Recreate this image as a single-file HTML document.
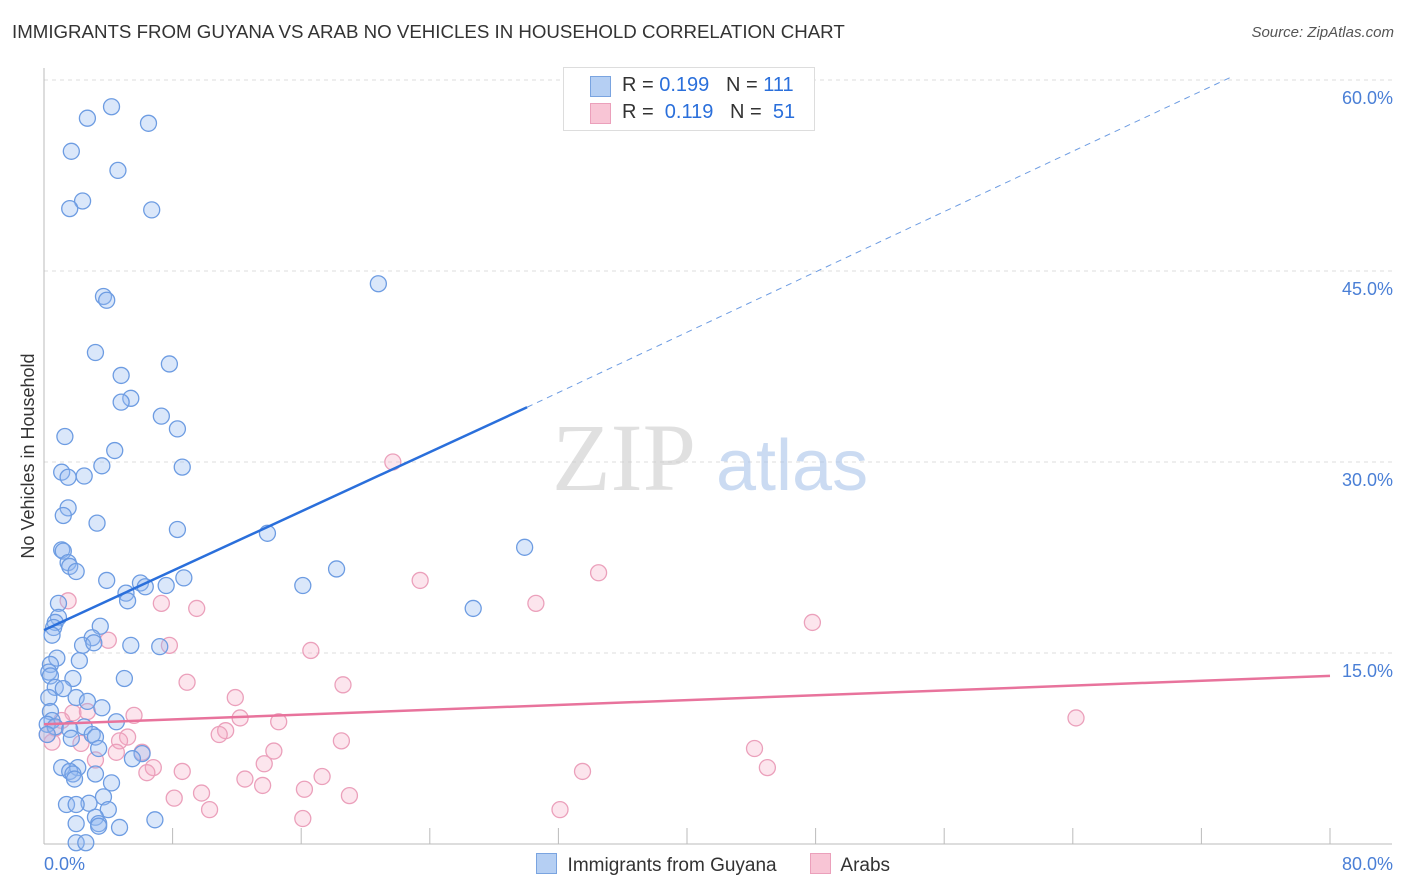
<!DOCTYPE html>
<html><head><meta charset="utf-8">
<style>
body{margin:0;background:#fff;font-family:"Liberation Sans",sans-serif;}
#wrap{position:relative;width:1406px;height:892px;overflow:hidden;}
.t{position:absolute;white-space:nowrap;}
</style></head>
<body>
<div id="wrap">
<div class="t" style="left:12px;top:21px;font-size:18.7px;color:#333;">IMMIGRANTS FROM GUYANA VS ARAB NO VEHICLES IN HOUSEHOLD CORRELATION CHART</div>
<div class="t" style="right:12px;top:24px;font-size:15px;color:#555;font-style:italic;">Source: ZipAtlas.com</div>
<svg id="svg" width="1406" height="892" style="position:absolute;left:0;top:0"></svg>
</div>
<script>
const xTickLabels=["0.0%","80.0%"];
const yTicks=[15,30,45,60];
const blueX=[4.2,2.7,6.5,1.7,4.6,2.4,1.6,6.7,20.8,3.7,3.9,3.2,7.8,4.8,5.4,4.8,7.3,8.3,1.3,4.4,3.6,8.6,1.1,2.5,1.5,1.5,1.2,3.3,8.3,13.9,29.9,1.1,1.2,1.5,1.6,2.0,18.2,3.9,8.7,6.0,6.3,7.6,16.1,5.1,5.2,0.9,26.7,0.9,0.7,0.6,3.5,0.5,3.0,2.4,3.1,5.4,7.2,0.8,2.2,0.4,0.3,0.4,1.8,5.0,0.7,1.2,0.3,2.0,2.7,3.6,0.4,0.5,4.5,0.2,0.7,2.5,1.6,0.2,3.0,3.2,1.7,3.4,6.1,5.5,1.1,2.1,1.6,1.8,3.2,1.9,4.2,3.7,1.4,2.8,2.0,4.0,3.2,3.4,3.4,6.9,4.7,2.0,2.0,2.6];
const blueY=[57.9,57.0,56.6,54.4,52.9,50.5,49.9,49.8,44.0,43.0,42.7,38.6,37.7,36.8,35.0,34.7,33.6,32.6,32.0,30.9,29.7,29.6,29.2,28.9,28.8,26.4,25.8,25.2,24.7,24.4,23.3,23.1,23.0,22.1,21.8,21.4,21.6,20.7,20.9,20.5,20.2,20.3,20.3,19.7,19.1,18.9,18.5,17.8,17.4,17.0,17.1,16.4,16.2,15.6,15.8,15.6,15.5,14.6,14.4,14.1,13.5,13.2,13.0,13.0,12.3,12.2,11.5,11.5,11.2,10.7,10.4,9.7,9.6,9.4,9.2,9.2,9.0,8.6,8.6,8.4,8.3,7.5,7.1,6.7,6.0,6.0,5.7,5.5,5.5,5.1,4.8,3.7,3.1,3.2,3.1,2.7,2.1,1.6,1.4,1.9,1.3,1.6,0.1,0.1];
const pinkX=[21.7,23.4,34.5,30.6,1.5,7.3,9.5,47.8,4.0,7.8,16.6,8.9,18.6,11.9,64.2,5.6,12.2,14.6,1.8,1.1,2.7,11.3,10.9,5.2,18.5,0.5,2.3,4.7,4.5,14.3,44.2,6.1,3.2,6.8,13.7,45.0,6.4,8.6,33.5,12.5,17.3,13.6,16.2,9.8,19.0,8.1,10.3,32.1,16.1,0.7,0.2];
const pinkY=[30.0,20.7,21.3,18.9,19.1,18.9,18.5,17.4,16.0,15.6,15.2,12.7,12.5,11.5,9.9,10.1,9.9,9.6,10.3,9.7,10.4,8.9,8.6,8.4,8.1,8.0,7.9,8.1,7.2,7.3,7.5,7.2,6.6,6.0,6.3,6.0,5.6,5.7,5.7,5.1,5.3,4.6,4.3,4.0,3.8,3.6,2.7,2.7,2.0,9.1,8.6];
const blueLine=[0,16.8,30.05,34.3];
const blueDash=[30.05,34.3,73.8,60.2];
const pinkLine=[0,9.4,80,13.2];

const X=v=>44+v*(1286/80);
const Y=v=>844-v*(764/60);
const svg=document.getElementById('svg');
const NS='http://www.w3.org/2000/svg';
function mk(tag,attrs){const e=document.createElementNS(NS,tag);for(const k in attrs)e.setAttribute(k,attrs[k]);svg.appendChild(e);return e;}

yTicks.forEach(t=>{
  const l=mk('line',{x1:44,x2:1392,y1:Y(t),y2:Y(t),stroke:'#ddd','stroke-dasharray':'4,4'});
  
  
  const tx=mk('text',{x:1393,y:Y(t)+24,'text-anchor':'end','font-size':18,fill:'#4a7fd6','font-family':'Liberation Sans'});
  tx.textContent=t.toFixed(1)+'%';
  
  
});
mk('line',{x1:44,x2:44,y1:68,y2:844,stroke:'#bbb'});
mk('line',{x1:44,x2:1392,y1:844,y2:844,stroke:'#bbb'});
for(let i=0;i<=10;i++){const t=mk('line',{x1:X(i*8),x2:X(i*8),y1:828,y2:844,stroke:'#bbb'});}
let a=mk('text',{x:44,y:870,'font-size':18,fill:'#4a7fd6','font-family':'Liberation Sans'});a.textContent=xTickLabels[0];

a=mk('text',{x:1393,y:870,'text-anchor':'end','font-size':18,fill:'#4a7fd6','font-family':'Liberation Sans'});a.textContent=xTickLabels[1];

a=mk('text',{x:34,y:456,'text-anchor':'middle','font-size':18,fill:'#333','font-family':'Liberation Sans',transform:'rotate(-90 34 456)'});a.textContent='No Vehicles in Household';

a=mk('text',{x:552,y:490,'font-size':96,fill:'#ccc','font-family':'Liberation Serif','opacity':0.6});a.textContent='ZIP';

a=mk('text',{x:716,y:490,'font-size':72,fill:'#aac4ea','font-family':'Liberation Sans','opacity':0.6});a.textContent='atlas';


pinkX.forEach((v,i)=>{const c=mk('circle',{cx:X(v),cy:Y(pinkY[i]),r:8,fill:'rgba(245,170,195,0.3)',stroke:'#eba0bb','stroke-width':1.3});
});
blueX.forEach((v,i)=>{const c=mk('circle',{cx:X(v),cy:Y(blueY[i]),r:8,fill:'rgba(150,185,240,0.35)',stroke:'#6d9ce2','stroke-width':1.3});
});
a=mk('line',{x1:X(blueLine[0]),y1:Y(blueLine[1]),x2:X(blueLine[2]),y2:Y(blueLine[3]),stroke:'#2a6fdb','stroke-width':2.5});

a=mk('line',{x1:X(blueDash[0]),y1:Y(blueDash[1]),x2:X(blueDash[2]),y2:Y(blueDash[3]),stroke:'#6d9ce2','stroke-width':1,'stroke-dasharray':'6,5'});

a=mk('line',{x1:X(pinkLine[0]),y1:Y(pinkLine[1]),x2:X(pinkLine[2]),y2:Y(pinkLine[3]),stroke:'#e8739c','stroke-width':2.5});

</script>
<div class="t" style="left:563px;top:67px;width:250px;height:62px;border:1px solid #ddd;background:#fff;font-size:20px;">
 <div style="position:absolute;left:26px;top:8px;width:19px;height:19px;background:#b5cff3;border:1px solid #7aa4e0"></div>
 <div class="t" style="left:58px;top:6px;color:#333">R = <span style="color:#2a6fdb">0.199</span>&nbsp;&nbsp;&nbsp;N = <span style="color:#2a6fdb">111</span></div>
 <div style="position:absolute;left:26px;top:35px;width:19px;height:19px;background:#f8c5d5;border:1px solid #eba0bb"></div>
 <div class="t" style="left:58px;top:33px;color:#333">R = &nbsp;<span style="color:#2a6fdb">0.119</span>&nbsp;&nbsp;&nbsp;N = &nbsp;<span style="color:#2a6fdb">51</span></div>
</div>
<div class="t" style="left:536px;top:853px;font-size:19px;color:#333">
 <span style="display:inline-block;width:19px;height:19px;background:#b5cff3;border:1px solid #7aa4e0;vertical-align:-3px"></span>&nbsp; Immigrants from Guyana
 <span style="display:inline-block;width:19px;height:19px;background:#f8c5d5;border:1px solid #eba0bb;vertical-align:-3px;margin-left:28px"></span>&nbsp; Arabs
</div>
</body></html>
